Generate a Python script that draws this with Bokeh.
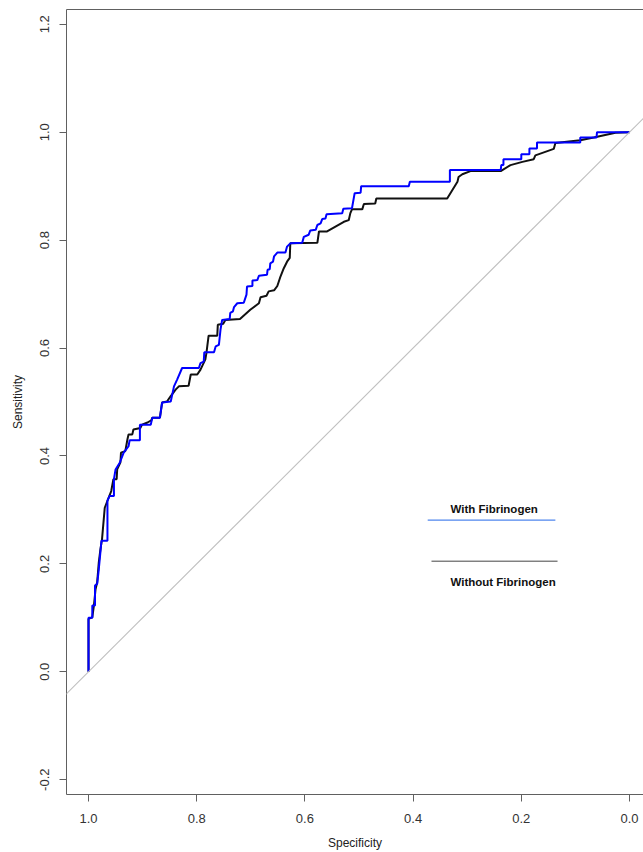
from bokeh.plotting import figure
from bokeh.models import Range1d, LinearAxis, FixedTicker, Label, Slope
from bokeh.embed import file_html
from bokeh.resources import INLINE

# ROC curve "With Fibrinogen" (specificity, sensitivity)
with_spec = [1.0, 1.0, 0.993, 0.993, 0.988, 0.988, 0.984, 0.981, 0.976, 0.965,
             0.965, 0.961, 0.953, 0.953, 0.950, 0.942, 0.935, 0.926, 0.924, 0.905,
             0.905, 0.885, 0.882, 0.868, 0.864, 0.848, 0.842, 0.836, 0.827, 0.796,
             0.793, 0.787, 0.786, 0.768, 0.765, 0.759, 0.756, 0.753, 0.739, 0.738,
             0.733, 0.731, 0.725, 0.713, 0.708, 0.707, 0.697, 0.697, 0.688, 0.685,
             0.670, 0.669, 0.665, 0.664, 0.659, 0.657, 0.651, 0.636, 0.633, 0.627,
             0.605, 0.602, 0.593, 0.590, 0.580, 0.577, 0.571, 0.568, 0.562, 0.560,
             0.531, 0.529, 0.513, 0.508, 0.497, 0.496, 0.408, 0.406, 0.332, 0.332,
             0.238, 0.237, 0.233, 0.233, 0.200, 0.200, 0.185, 0.185, 0.171, 0.171,
             0.091, 0.091, 0.061, 0.060, 0.0]
with_sens = [0.0, 0.100, 0.100, 0.123, 0.123, 0.160, 0.163, 0.190, 0.243, 0.243,
             0.317, 0.326, 0.326, 0.357, 0.375, 0.388, 0.406, 0.418, 0.429, 0.429,
             0.458, 0.458, 0.471, 0.471, 0.499, 0.501, 0.529, 0.542, 0.563, 0.563,
             0.572, 0.575, 0.592, 0.592, 0.603, 0.606, 0.634, 0.652, 0.654, 0.665,
             0.668, 0.676, 0.683, 0.684, 0.699, 0.714, 0.715, 0.725, 0.726, 0.734,
             0.736, 0.745, 0.746, 0.757, 0.760, 0.770, 0.777, 0.777, 0.788, 0.794,
             0.795, 0.806, 0.810, 0.818, 0.819, 0.828, 0.831, 0.839, 0.840, 0.848,
             0.850, 0.858, 0.859, 0.887, 0.888, 0.900, 0.900, 0.908, 0.908, 0.930,
             0.930, 0.939, 0.939, 0.950, 0.950, 0.959, 0.959, 0.970, 0.970, 0.981,
             0.981, 0.990, 0.990, 1.0, 1.0]

# ROC curve "Without Fibrinogen"
without_spec = [1.0, 1.0, 0.993, 0.990, 0.987, 0.984, 0.981, 0.978, 0.975, 0.970,
                0.965, 0.958, 0.954, 0.948, 0.947, 0.941, 0.940, 0.932, 0.928, 0.926,
                0.919, 0.917, 0.904, 0.901, 0.891, 0.884, 0.882, 0.868, 0.864, 0.855,
                0.848, 0.839, 0.833, 0.815, 0.811, 0.799, 0.793, 0.784, 0.782, 0.778,
                0.762, 0.761, 0.751, 0.747, 0.720, 0.701, 0.685, 0.682, 0.671, 0.667,
                0.657, 0.651, 0.645, 0.639, 0.633, 0.628, 0.627, 0.577, 0.574, 0.559,
                0.528, 0.519, 0.516, 0.513, 0.494, 0.491, 0.470, 0.468, 0.337, 0.318,
                0.316, 0.309, 0.294, 0.238, 0.220, 0.198, 0.177, 0.174, 0.140, 0.137,
                0.091, 0.066, 0.026, 0.0]
without_sens = [0.0, 0.098, 0.101, 0.123, 0.153, 0.166, 0.203, 0.227, 0.246, 0.304,
                0.317, 0.335, 0.357, 0.357, 0.375, 0.388, 0.406, 0.409, 0.431, 0.440,
                0.440, 0.449, 0.452, 0.458, 0.462, 0.466, 0.471, 0.471, 0.499, 0.501,
                0.511, 0.523, 0.529, 0.530, 0.551, 0.551, 0.560, 0.579, 0.591, 0.623,
                0.623, 0.643, 0.645, 0.652, 0.654, 0.671, 0.683, 0.694, 0.697, 0.705,
                0.707, 0.715, 0.733, 0.748, 0.760, 0.767, 0.794, 0.795, 0.816, 0.816,
                0.834, 0.837, 0.850, 0.857, 0.857, 0.867, 0.868, 0.877, 0.877, 0.908,
                0.917, 0.922, 0.928, 0.928, 0.939, 0.945, 0.950, 0.957, 0.969, 0.980,
                0.985, 0.990, 0.999, 1.0]

x_ticks = [1.0, 0.8, 0.6, 0.4, 0.2, 0.0]
y_ticks = [-0.2, 0.0, 0.2, 0.4, 0.6, 0.8, 1.0, 1.2]
legend_labels = ["With Fibrinogen", "Without Fibrinogen"]

FONT = "Liberation Sans"
AXIS_COLOR = "#606060"

p = figure(width=643, height=852, output_backend="svg", toolbar_location=None,
           x_range=Range1d(1.0407, -0.0259), y_range=Range1d(-0.2274, 1.2274),
           min_border_left=66, min_border_right=0, min_border_top=9,
           min_border_bottom=56, x_axis_label="Specificity",
           y_axis_label="Sensitivity")
p.grid.visible = False
p.outline_line_color = None
p.background_fill_color = "white"
p.border_fill_color = "white"

for ax in (p.xaxis[0], p.yaxis[0]):
    ax.axis_line_color = AXIS_COLOR
    ax.major_tick_line_color = AXIS_COLOR
    ax.minor_tick_line_color = None
    ax.major_tick_out = 7
    ax.major_tick_in = 0
    ax.major_label_text_font = FONT
    ax.major_label_text_font_size = "13px"
    ax.major_label_text_color = "#333333"
    ax.axis_label_text_font = FONT
    ax.axis_label_text_font_size = "12px"
    ax.axis_label_text_font_style = "normal"
    ax.axis_label_text_color = "#222222"

p.xaxis.ticker = FixedTicker(ticks=x_ticks)
p.yaxis.ticker = FixedTicker(ticks=y_ticks)
p.xaxis.major_label_overrides = {t: f"{t:.1f}" for t in x_ticks}
p.yaxis.major_label_overrides = {t: f"{t:.1f}" for t in y_ticks}
p.yaxis.major_label_orientation = "vertical"
p.xaxis.major_label_standoff = 12
p.yaxis.major_label_standoff = 10
p.xaxis.axis_label_standoff = 10
p.yaxis.axis_label_standoff = 13

top = LinearAxis(ticker=FixedTicker(ticks=[]), axis_line_color=AXIS_COLOR,
                 major_tick_out=0, major_tick_in=0, minor_tick_out=0,
                 minor_tick_in=0, major_label_standoff=0,
                 major_label_text_font_size="0px")
p.add_layout(top, "above")

# chance diagonal
p.add_layout(Slope(gradient=-1, y_intercept=1, line_color="#c0c0c0", line_width=1.2))

p.line(without_spec, without_sens, line_color="#111111", line_width=2)
p.line(with_spec, with_sens, line_color="#0000ff", line_width=2)

# legend-like annotation
p.segment(x0=[0.373], y0=[0.281], x1=[0.137], y1=[0.281], line_color="#4f86ee", line_width=1.2)
p.segment(x0=[0.366], y0=[0.205], x1=[0.133], y1=[0.205], line_color="#444444", line_width=1)
p.add_layout(Label(x=0.331, y=0.302, text=legend_labels[0], text_font=FONT,
                   text_font_size="11.5px", text_font_style="bold",
                   text_align="left", text_baseline="middle", text_color="#111111"))
p.add_layout(Label(x=0.331, y=0.167, text=legend_labels[1], text_font=FONT,
                   text_font_size="11.5px", text_font_style="bold",
                   text_align="left", text_baseline="middle", text_color="#111111"))

open("out.html", "w").write(file_html(p, INLINE))
